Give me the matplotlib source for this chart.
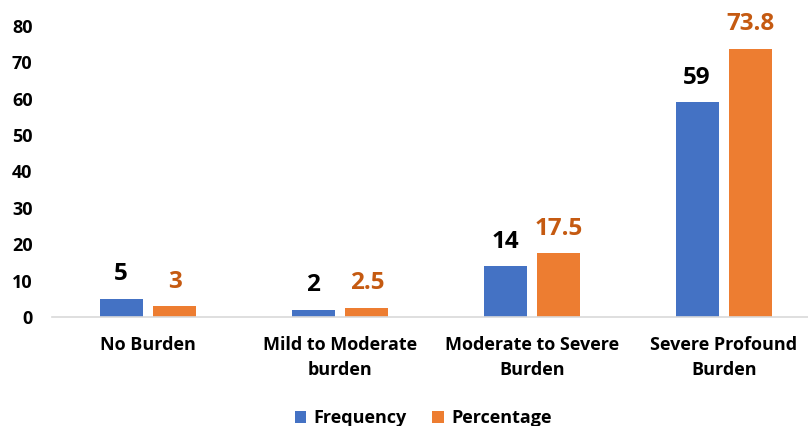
import matplotlib
matplotlib.use("Agg")
import matplotlib.pyplot as plt
import numpy as np

categories = ["No Burden", "Mild to Moderate\nburden", "Moderate to Severe\nBurden", "Severe Profound\nBurden"]
frequency = [5, 2, 14, 59]
percentage = [3, 2.5, 17.5, 73.8]
yticks = [0, 10, 20, 30, 40, 50, 60, 70, 80]

blue = "#4472C4"
orange = "#ED7D31"
pct_text = "#C55A11"

plt.rcParams["font.family"] = ["Open Sans", "DejaVu Sans"]
plt.rcParams["font.weight"] = "bold"

fig = plt.figure(figsize=(8.08, 4.26), dpi=100)
ax = fig.add_axes([52 / 808, 1 - 317 / 426, 756 / 808, (317 - 26) / 426])

x = np.arange(len(categories))
w = 0.224
off = 0.14
b1 = ax.bar(x - off, frequency, w, color=blue, label="Frequency")
b2 = ax.bar(x + off, percentage, w, color=orange, label="Percentage")

for rect, v in zip(b1, frequency):
    ax.annotate(f"{v:g}", (rect.get_x() + rect.get_width() / 2, v),
                xytext=(0, 9), textcoords="offset points",
                ha="center", va="bottom", fontsize=17.5, fontweight="bold", color="black")
for rect, v in zip(b2, percentage):
    ax.annotate(f"{v:g}", (rect.get_x() + rect.get_width() / 2, v),
                xytext=(0, 9), textcoords="offset points",
                ha="center", va="bottom", fontsize=17.5, fontweight="bold", color=pct_text)

ax.set_xlim(-0.5, 3.4375)
ax.set_ylim(0, 80)
ax.set_yticks(yticks)
ax.set_yticklabels([str(t) for t in yticks], fontsize=13, fontweight="bold")
ax.set_xticks(x)
ax.set_xticklabels(categories, fontsize=13, fontweight="bold", linespacing=1.5)
ax.tick_params(axis="both", length=0)
ax.tick_params(axis="x", pad=14)
ax.tick_params(axis="y", pad=14)

for s in ["top", "right", "left"]:
    ax.spines[s].set_visible(False)
ax.spines["bottom"].set_color("#D9D9D9")
ax.spines["bottom"].set_linewidth(1.2)

leg = fig.legend(handles=[b1, b2], loc="center", bbox_to_anchor=(423 / 808, 1 - 418 / 426),
                 ncol=2, frameon=False, fontsize=13, handlelength=0.65, handleheight=0.65,
                 columnspacing=1.4, handletextpad=0.4)
for t in leg.get_texts():
    t.set_fontweight("bold")

fig.savefig("out.png", dpi=100)
